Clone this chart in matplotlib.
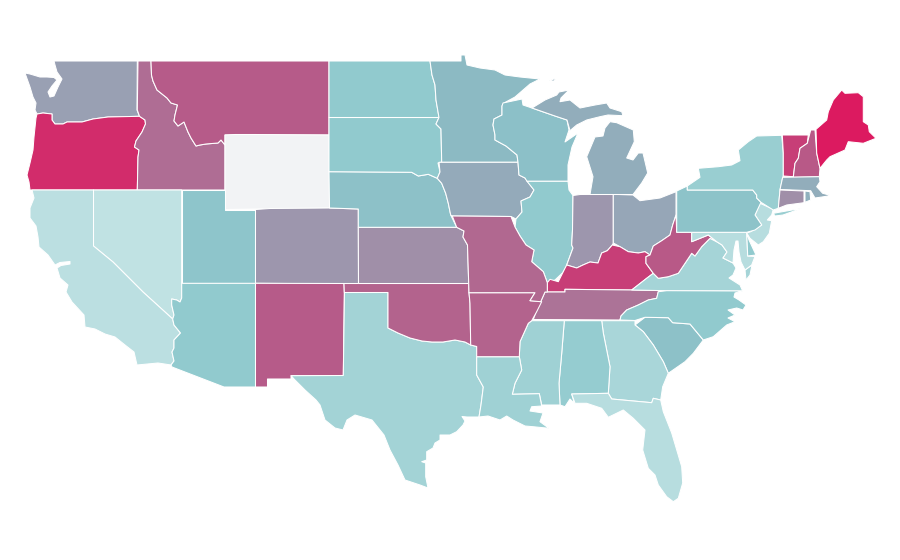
import matplotlib
matplotlib.use("Agg")
import matplotlib.pyplot as plt
from matplotlib.colors import LinearSegmentedColormap

STATES = ["WA","OR","ID","MT","WY","NV","CA","UT","CO","AZ","NM","TX","OK","KS","NE","SD","ND","MN","IA","WI","IL","IN","OH","MI","KY","TN","VA","WV","MD","DE","NJ","PA","NY","VT","NH","ME","MA","CT","RI","SC","NC","GA","AL","MS","LA","AR","MO","FL"]
VALUES = [.48,.93,.68,.75,None,0,.03,.28,.52,.24,.75,.15,.72,.55,.31,.24,.24,.36,.43,.32,.24,.52,.45,.42,.86,.66,.14,.76,.05,.24,.05,.30,.20,.86,.76,1.0,.42,.55,.40,.31,.24,.12,.22,.17,.17,.72,.70,.05]

NO_DATA = "#f2f3f5"
CMAP = LinearSegmentedColormap.from_list("tealred", [(0,"#c0e2e3"),(.25,"#8fc9cd"),(.35,"#8bbcc5"),(.5,"#9b9bb0"),(.75,"#b65c89"),(1,"#dc1a60")])

# Outlines in the map's own projected units
OUTLINES = {
"WA":[[(54,61),(137.3,61),(137,110),(139.5,116.3),(108,117),(93,119),(82,122),(67,122),(63,124),(55,124),(52,120),(52,114),(43,113),(37,114),(35,110),(36,103),(33,97),(30,87),(25,73),(30,74),(40,77),(47,77),(54,77.5),(57,80),(52,86),(48,92),(50,97),(54,96),(58,87),(62,79),(57,72),(55,65)]],
"OR":[[(37,114),(43,113),(52,114),(52,120),(55,124),(63,124),(67,122),(82,122),(93,119),(108,117),(139.5,116.3),(145,120),(145.5,124),(142,132),(136,141),(134.5,147),(139,150),(138,157),(137.3,190),(30,190),(29,182),(27,175),(30,163),(33,150),(34,137),(36,118)]],
"ID":[[(138,61),(151,61),(151.5,75),(153,81),(157,90),(167,98),(171,103),(177.5,105),(175,115),(174,121),(178,126),(184,122),(188,132),(191,138),(196,146),(200,145),(206,144),(218,143),(221,140),(225,145),(225,190),(137.3,190),(138,157),(139,150),(134.5,147),(136,141),(142,132),(145.5,124),(145,120),(139.5,116.3),(137.3,110)]],
"MT":[[(151,61),(329,61),(329,135),(225,135),(225,145),(221,140),(218,143),(206,144),(200,145),(196,146),(191,138),(188,132),(184,122),(178,126),(174,121),(175,115),(177.5,105),(171,103),(167,98),(157,90),(153,81),(151.5,75)]],
"WY":[[(225,135),(235,134.5),(255,134.5),(329,135),(329.5,208),(225,209.5)]],
"NV":[[(93.5,190),(181.7,190),(181.7,298),(180,302),(176.7,300),(171.7,299),(171.7,305),(174,315),(172.7,319),(143,292),(113,262),(93.5,246)]],
"CA":[[(32,190),(93.5,190),(93.5,246),(113,262),(143,292),(172.7,319),(174,325),(180.5,333),(174,340),(174,348),(172,352),(174,361),(171,365),(158,363),(137,365),(134,352),(125,345),(115,337),(105,334),(95,329),(85,327),(84,315),(72,302),(66,292),(68,285),(60,278),(57,268),(61,265.5),(70,264),(70,261.5),(60,262.5),(55,265),(48,255),(39,247),(38,237),(36,226),(30,218),(30,208),(34,198)]],
"UT":[[(181.7,190),(225,190),(225,209.5),(255.5,209.5),(255.5,283.3),(181.7,283.3)]],
"CO":[[(255.5,209.5),(270,208.5),(329.5,208),(358.3,209),(358.5,284),(255.5,283.3)]],
"AZ":[[(181.7,283.3),(255.5,283.3),(255.5,387),(224,387),(172,367),(171,365),(174,361),(172,352),(174,348),(174,340),(180.5,333),(174,325),(172.7,319),(174,315),(171.7,305),(171.7,299),(176.7,300),(180,302),(181.7,298)]],
"NM":[[(255.5,283.3),(344,283.5),(344.3,292.5),(343.3,375.5),(291,375.7),(291,379),(267.5,379),(267.5,387),(255.5,387)]],
"TX":[[(344.5,292.5),(388,292.5),(388,328),(398,333),(410,338),(422,341),(432,342),(443,342),(455,340),(465,342),(470.7,345),(476.7,346.5),(476.7,375),(483.3,387),(481,405),(479,417),(467,417),(462,416.5),(465,421),(463,425),(456.7,431.7),(450,435),(440,435),(440,440),(435,443),(433,448),(426.7,451.7),(426.7,460),(421.7,461.7),(425.7,463),(425.7,476.7),(428,488),(420,485),(405,480),(398,465),(390,450),(384,435),(372,420),(355,415),(347,420),(343,430),(335,428),(325,420),(320,405),(316,400),(305,390),(295,380),(291,375.7),(343.3,375.5)]],
"OK":[[(344,283.5),(468.7,283.5),(469,292.7),(470,303.3),(470.7,345),(465,342),(455,340),(443,342),(432,342),(422,341),(410,338),(398,333),(388,328),(388,292.5),(344.3,292.5)]],
"KS":[[(358.3,227.3),(456.7,227.3),(464,231),(463,237),(467.5,245),(468.7,283.5),(358.5,283.5)]],
"NE":[[(329,171.7),(340,171.7),(411.7,172.3),(418.3,176),(428.3,174.3),(437.3,178.3),(441.7,183.3),(445.7,193.3),(448.3,203.3),(450.7,215),(456.7,227.3),(358.3,227.3),(358.3,209),(329.5,208)]],
"SD":[[(329,117.5),(439,117.5),(436,124),(441,129),(441.7,162),(438,163),(440,172),(437.3,178.3),(428.3,174.3),(418.3,176),(411.7,172.3),(329,171.7)]],
"ND":[[(329,61),(430,61),(432,75),(435,85),(436,100),(439,117.5),(329,117.5)]],
"MN":[[(430,61),(461,61),(461,55),(465,55),(467,65),(480,68),(495,70),(505,75),(520,77),(540,79),(530,84),(515,97),(504,103),(502,106),(502,115),(494,119),(493,125),(495,135),(495,140),(506,146),(517,155),(518,162.3),(441.7,162.3),(441,129),(436,124),(439,117.5),(436,100),(435,85),(432,75)]],
"IA":[[(439,162.3),(518,162.3),(519,175),(525,178),(534,190),(530,197),(521,201),(522,212),(516,219),(511,216.5),(452.3,216),(450.7,215),(448.3,203.3),(445.7,193.3),(441.7,183.3),(437.3,178.3),(440,172)]],
"WI":[[(503,103),(522,99),(523,105),(532,108),(555,116),(567,120),(569,130),(565,142),(578,133),(572,147),(568,165),(568,181.3),(527,181.3),(525,178),(519,175),(518,162.3),(517,155),(506,146),(495,140),(495,135),(493,125),(494,119),(502,115),(502,106)]],
"IL":[[(527,181.3),(568,181.3),(569,190),(573,195.5),(572.5,230),(571.7,245),(573,248),(566,266.7),(562.7,272.7),(555,280),(547.3,282.7),(543.3,271.7),(531.7,261.7),(534,250),(526,245),(520,236),(515,227),(516,219),(522,212),(521,201),(530,197),(534,190)]],
"IN":[[(573,195.5),(580,194.5),(613.3,194.3),(613.3,243),(612.3,245),(607.3,250.7),(601.7,253),(598,263),(590,262),(583,265),(576.7,268),(566.7,265),(573,248),(571.7,245),(572.5,230)]],
"OH":[[(613.3,194.3),(633,195),(640,200.7),(660,198),(676,191.7),(676,215),(672.7,225),(670,235),(661.7,240.7),(653.3,246),(650,255),(645,251.7),(638.3,253),(628.3,251.7),(620,246.7),(613.3,243)]],
"MI":[[(610,121.7),(616.7,122.7),(633.3,130),(634.3,141.7),(626.7,158),(633,160),(638.3,153),(643,153),(647.7,173),(641.7,183),(633,194.5),(590,194.5),(593,176.7),(586.7,156.7),(595,137),(603,136),(605,128)],
      [(532,108),(545,100),(556.7,95),(559,92),(569,90),(561,98),(560,101.7),(570,100),(580,108),(595,105),(606.7,103),(610,108),(621.7,111.7),(623,115.7),(608,115),(600,116.7),(586.7,120),(576.7,125),(570,130.7),(567,120),(555,116)],
      [(549,81),(556,78),(554,81)]],
"KY":[[(547.3,282.7),(550,279.3),(558.3,281.7),(565,268.3),(566.7,265),(576.7,268),(583,265),(590,262),(598,263),(601.7,253),(607.3,250.7),(612.3,245),(620,246.7),(628.3,251.7),(638.3,253),(645,251.7),(650,255),(646,256.7),(646,263.3),(653.3,273.3),(646.7,278.3),(631.7,290),(565,289.3),(565,292),(547.3,292)]],
"TN":[[(545,292),(565,292),(565,289.3),(631.7,290),(666.7,290.7),(658.3,291.7),(656.7,298.3),(648.3,300),(638.3,305),(626.7,310),(621,316),(620,320),(533.3,319.5),(536.7,310),(540.7,301.7)]],
"VA":[[(631.7,290),(646.7,278.3),(653.3,273.3),(658.3,278.3),(668.3,276.7),(678.3,273.3),(685,263.3),(691.7,253.3),(695,256),(701.7,246.7),(710,238.3),(716.7,241.7),(722,245),(727,252),(723,258),(733,263),(736,268),(733,275),(729,278),(740,285),(742.7,291),(666.7,290.7)],
      [(745,270),(752,265),(750,275),(746,280)]],
"WV":[[(676,215),(676.7,232.3),(691.7,232.3),(691.7,241.7),(708.3,235),(716.7,241.7),(710,238.3),(701.7,246.7),(695,256),(691.7,253.3),(685,263.3),(678.3,273.3),(668.3,276.7),(658.3,278.3),(653.3,273.3),(646,263.3),(646,256.7),(650,255),(653.3,246),(661.7,240.7),(670,235),(672.7,225)]],
"MD":[[(691.7,232.3),(746.7,232.3),(747.7,256),(755,256.5),(751.7,265),(745,270),(741,262),(739,252),(738,241),(736,241),(734,250),(733,263),(723,258),(727,252),(722,245),(716.7,241.7),(708.3,235),(691.7,241.7)]],
"DE":[[(746.7,232.3),(749,240),(756,255),(747.7,256)]],
"NJ":[[(760,203.3),(773.3,209.3),(771.7,215),(767.3,220),(771.7,220.7),(769.3,233.3),(763.3,241.7),(758.3,245),(750,238.3),(746.7,233),(750.7,231.7),(761.7,225),(755,215)]],
"PA":[[(676.7,191),(687.3,186),(687.3,190),(752.7,190),(756.7,195),(756.7,198),(761,202.3),(755,215),(761.7,225),(755,230),(746.7,232.3),(676.7,232.3)]],
"NY":[[(687.3,186),(700,177.3),(698.3,168.3),(718.3,166.7),(731.7,165),(740,160.7),(738.3,150),(748.3,141.7),(756.7,136),(781.7,135.3),(783.3,153),(783.3,176),(782.7,177.3),(780,190),(778.3,208.3),(773.3,210),(761,202.3),(756.7,198),(756.7,195),(752.7,190),(687.3,190)],
      [(773.3,213.3),(801.7,208.3),(783,215),(775,216)]],
"VT":[[(782.3,135),(808.3,135),(807.3,143.3),(800,148.3),(798.3,158.3),(795,163.3),(793.3,176.7),(783.3,176),(783.3,153)]],
"NH":[[(810.7,130),(815,130),(816.7,153),(820,168.3),(819.3,176.7),(793.3,177.3),(795,163.3),(798.3,158.3),(800,148.3),(807.3,143.3)]],
"ME":[[(816,129.3),(826.7,120),(828.3,111.7),(833.3,100),(841.7,90),(845,93.3),(858.3,92.7),(863.3,96.7),(863.3,121.7),(868.3,125),(869.3,131.7),(876,138.3),(863.3,143.3),(848.3,141.7),(845,150),(830,156.7),(826.7,160),(820,168.3),(816.7,153)]],
"MA":[[(782.7,177.3),(819.3,176.7),(820,181.7),(816.7,186.7),(822.7,193.3),(831,195.5),(822,197),(815,198),(810.7,190.7),(780,189.5)]],
"CT":[[(780,190),(804,191),(804,202.7),(786.7,205),(778.3,208.3)]],
"RI":[[(805,191),(810,191.7),(810.7,200),(805,202.3)]],
"SC":[[(635,325),(645,317.3),(668.3,317.7),(672.7,322.7),(690,324),(703.3,340),(693.3,353.3),(685,361.7),(668.3,373.3),(663.3,361.7),(653.3,345),(643.3,331.7)]],
"NC":[[(666.7,290.7),(742.7,291),(735,293),(734,297),(739,300),(746,305),(743,310),(736.7,308),(728,310),(735,315),(728,318),(735,321.7),(726.7,325),(713.3,336.7),(703.3,340),(690,324),(672.7,322.7),(668.3,317.7),(645,317.3),(635,320.5),(620,320),(621,316),(626.7,310),(638.3,305),(648.3,300),(656.7,298.3),(658.3,291.7)]],
"GA":[[(601.7,320.7),(635,320.7),(635,325),(643.3,331.7),(653.3,345),(663.3,361.7),(668.3,373.3),(662.7,386.7),(660.7,400),(653.3,398.3),(651.7,402.7),(611.7,399),(608.3,393.3),(610,366.7),(603.3,333)]],
"AL":[[(564.3,320.7),(601.7,320.7),(603.3,333),(610,366.7),(608.3,393.3),(571.7,394),(574.3,403.3),(570,399),(565,406.7),(560,405),(559,383.3),(561.7,353.3)]],
"MS":[[(531.7,320.7),(564.3,320.7),(561.7,353.3),(559,383.3),(560,405),(553.3,405),(541.7,405),(539.3,393.7),(512.3,394.3),(515,383.3),(521.7,370),(519.3,356.7),(520,341.7),(528.3,323.3)]],
"LA":[[(476.7,356.7),(519.3,356.7),(521.7,370),(515,383.3),(512.3,394.3),(539.3,393.7),(541.7,406),(531.7,406.7),(530,411),(543,413),(540,421.7),(549,428.3),(533,426.7),(525,426),(513,420),(506.7,416),(500,420),(488,416),(479,417),(481,405),(483.3,387),(476.7,375)]],
"AR":[[(469,292.7),(535,292.7),(530,300.7),(541.7,301.7),(536.7,311.7),(531.7,320.7),(528.3,323.3),(520,341.7),(519.3,356.7),(476.7,356.7),(476.7,346.5),(470.7,345),(470,303.3)]],
"MO":[[(452.3,216),(511,216.5),(515,227),(520,236),(526,245),(534,250),(531.7,261.7),(543.3,271.7),(547.3,282.7),(547.3,292),(545,292),(540.7,301.7),(530,300.7),(535,292.7),(469,292.7),(468.7,283.5),(467.5,245),(463,237),(464,231),(456.7,227.3)]],
"FL":[[(571.7,394),(608.3,393.3),(611.7,399),(651.7,402.7),(653.3,398.3),(660.7,400),(663.3,411.7),(671.7,433),(681.7,466.7),(682.7,483),(678.3,498.3),(673.3,501.7),(666.7,496.7),(658.3,485),(655,475),(648.3,468.3),(642.7,450),(645,430),(633.3,418.3),(623.3,410),(608.3,417.3),(601.7,408.3),(586.7,403.3),(575,403.3)]],
}

fig = plt.figure(figsize=(9, 5.6), dpi=100, facecolor="white")
ax = fig.add_axes([0, 0, 1, 1])
ax.set_xlim(0, 900)
ax.set_ylim(560, 0)
ax.axis("off")

for state, value in zip(STATES, VALUES):
    color = NO_DATA if value is None else CMAP(value)
    for part in OUTLINES[state]:
        xs, ys = zip(*part)
        ax.fill(xs, ys, facecolor=color, edgecolor="white", linewidth=0.75, joinstyle="round", label=state)

fig.savefig("out.png", dpi=100, facecolor="white")
